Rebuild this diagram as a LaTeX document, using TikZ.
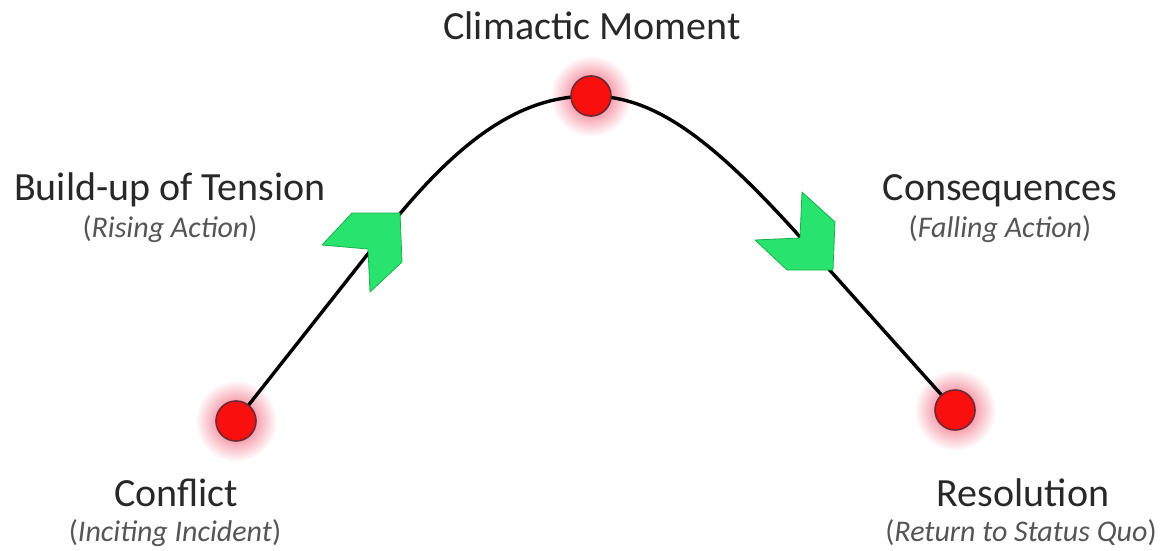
\documentclass[tikz,border=0pt]{standalone}
\usepackage{fontspec}
\setmainfont{Carlito}
\definecolor{txt}{RGB}{40,40,40}
\definecolor{sub}{RGB}{85,85,85}
\definecolor{dotred}{RGB}{250,15,15}
\definecolor{dotedge}{RGB}{110,40,50}
\definecolor{glow}{RGB}{246,160,175}
\definecolor{arrowfill}{RGB}{40,228,110}
\definecolor{arrowedge}{RGB}{25,175,75}
\pgfdeclareradialshading{glowshade}{\pgfpoint{0bp}{0bp}}{color(0bp)=(glow); color(12bp)=(glow); color(25bp)=(white); color(50bp)=(white)}
\begin{document}
\begin{tikzpicture}[x=1pt,y=-1pt,
  title/.style={font=\fontsize{40}{44}\selectfont, text=txt, anchor=base, inner sep=0pt},
  subtitle/.style={font=\fontsize{30}{34}\selectfont, text=sub, anchor=base, inner sep=0pt},
  halo/.style={circle, minimum size=82pt, inner sep=0pt, shading=glowshade},
  dot/.style={circle, minimum size=40pt, inner sep=0pt, fill=dotred, draw=dotedge, line width=1.6pt},
  chevron/.style={fill=arrowfill, draw=arrowedge, line width=0.8pt, line join=round},
  curve/.style={line width=3.4pt, black}
]
\useasboundingbox (0,0) rectangle (1165,551);
% anchor points
\coordinate (pc) at (236,421);
\coordinate (pm) at (591,96);
\coordinate (pr) at (955,410);
% halos
\node[halo] (hc) at (pc) {};
\node[halo] (hm) at (pm) {};
\node[halo] (hr) at (pr) {};
% curve
\draw[curve] (pc) -- (382,236) .. controls (468,126) and (530,96) .. (pm)
  .. controls (652,96) and (708,136) .. (792,228) -- (pr);
% chevrons
\draw[chevron] (322,245) -- (352,213) -- (400,213) -- (402,262) -- (370,292) -- (368,249) -- cycle;
\draw[chevron] (802,192) -- (835,222) -- (833,270) -- (787,270) -- (755,240) -- (800,238) -- cycle;
% dots
\node[dot] (conflict) at (pc) {};
\node[dot] (climax) at (pm) {};
\node[dot] (resolution) at (pr) {};
% labels
\node[title] (tclimax) at (592,40) {Climactic Moment};
\node[title] (tbuild) at (170,200) {Build-up of Tension};
\node[subtitle] (sbuild) at (170,237) {(\textit{Rising Action})};
\node[title] (tcons) at (1000,200) {Consequences};
\node[subtitle] (scons) at (1000,237) {(\textit{Falling Action})};
\node[title] (tconf) at (176,506) {Conflict};
\node[subtitle] (sconf) at (175,541) {(\textit{Inciting Incident})};
\node[title] (tres) at (1023,506) {Resolution};
\node[subtitle] (sres) at (1021,541) {(\textit{Return to Status Quo})};
\end{tikzpicture}
\end{document}
